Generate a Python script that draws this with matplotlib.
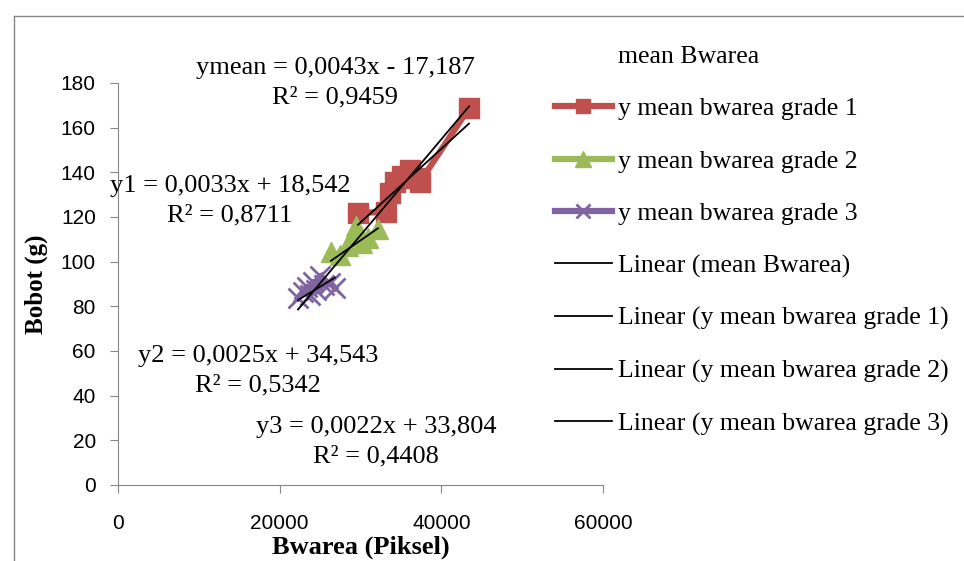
import numpy as np
import matplotlib.pyplot as plt
from matplotlib.lines import Line2D

# data (x = Bwarea in pixels, y = Bobot in grams)
g1_x = [29690, 33150, 33650, 34260, 35130, 36120, 36860, 37360, 43420]
g1_y = [121.8, 122.3, 130.8, 135.7, 138.4, 141.1, 137.5, 135.7, 168.8]
g2_x = [26350, 27460, 28450, 28950, 29440, 30180, 30930, 32160]
g2_y = [104.3, 103.0, 107.0, 111.5, 116.0, 108.4, 110.6, 114.6]
g3_x = [22270, 22880, 23380, 23750, 24120, 24490, 25000, 25480, 26220, 26840]
g3_y = [83.7, 86.4, 88.7, 85.1, 90.9, 87.3, 93.6, 89.6, 90.5, 88.2]

# trendline coefficients as printed on the chart: mean, grade 1, grade 2, grade 3
slopes = [0.0043, 0.0033, 0.0025, 0.0022]
intercepts = [-17.187, 18.542, 34.543, 33.804]
eq_text = ["ymean = 0,0043x - 17,187\nR² = 0,9459",
           "y1 = 0,0033x + 18,542\nR² = 0,8711",
           "y2 = 0,0025x + 34,543\nR² = 0,5342",
           "y3 = 0,0022x + 33,804\nR² = 0,4408"]

serif = "Liberation Serif"
fig = plt.figure(figsize=(9.64, 5.61), dpi=100)
ax = fig.add_axes([118/964, 76/561, 485/964, 402/561])

all_x = g1_x + g2_x + g3_x
all_y = g1_y + g2_y + g3_y
ax.plot(all_x, all_y, linestyle="none", label="mean Bwarea")
ax.plot(g1_x, g1_y, color="#c0504d", lw=4.5, marker="s", ms=14, label="y mean bwarea grade 1")
ax.plot(g2_x, g2_y, color="#9bbb59", lw=4.5, marker="^", ms=15, label="y mean bwarea grade 2")
ax.plot(g3_x, g3_y, color="#8064a2", lw=4.5, marker="x", ms=14, mew=2, label="y mean bwarea grade 3")

names = ["Linear (mean Bwarea)", "Linear (y mean bwarea grade 1)",
         "Linear (y mean bwarea grade 2)", "Linear (y mean bwarea grade 3)"]
xs_list = [all_x, g1_x, g2_x, g3_x]
for xs, m, b, nm in zip(xs_list, slopes, intercepts, names):
    xx = np.array([min(xs), max(xs)])
    ax.plot(xx, m * xx + b, color="black", lw=1.3, label=nm)

# equation labels (data coords)
pos = [(26840, 180.1), (13850, 127.2), (17320, 51), (31910, 19.3)]
for (px, py), t in zip(pos, eq_text):
    ax.text(px, py, t, ha="center", va="center", fontsize=19, family=serif,
            linespacing=1.45, clip_on=False)

ax.set_xlim(0, 60000)
ax.set_ylim(0, 180)
ax.set_xticks([0, 20000, 40000, 60000])
ax.set_yticks(range(0, 181, 20))
ax.tick_params(labelsize=15, color="#868686", length=6)
for lbl in ax.get_xticklabels() + ax.get_yticklabels():
    lbl.set_family("Liberation Sans")
ax.tick_params(axis="x", pad=15)
ax.tick_params(axis="y", pad=10)
for s in ["top", "right"]:
    ax.spines[s].set_visible(False)
for s in ["left", "bottom"]:
    ax.spines[s].set_color("#868686")

ax.set_xlabel("Bwarea (Piksel)", fontsize=19, fontweight="bold", family=serif, labelpad=2)
ax.set_ylabel("Bobot (g)", fontsize=18, fontweight="bold", family=serif, labelpad=9)

leg = fig.legend(loc="upper left", bbox_to_anchor=(555/964, 1 - 45/561), frameon=False,
                 prop={"family": serif, "size": 18.5}, labelspacing=1.14,
                 handlelength=2.2, handletextpad=0.25, borderpad=0, borderaxespad=0,
                 markerscale=0.75)

# outer chart border
fig.add_artist(Line2D([14/964, 1], [1 - 16/561, 1 - 16/561], color="#868686", lw=1))
fig.add_artist(Line2D([14/964, 14/964], [0, 1 - 16/561], color="#868686", lw=1))

fig.savefig("out.png", dpi=100)
